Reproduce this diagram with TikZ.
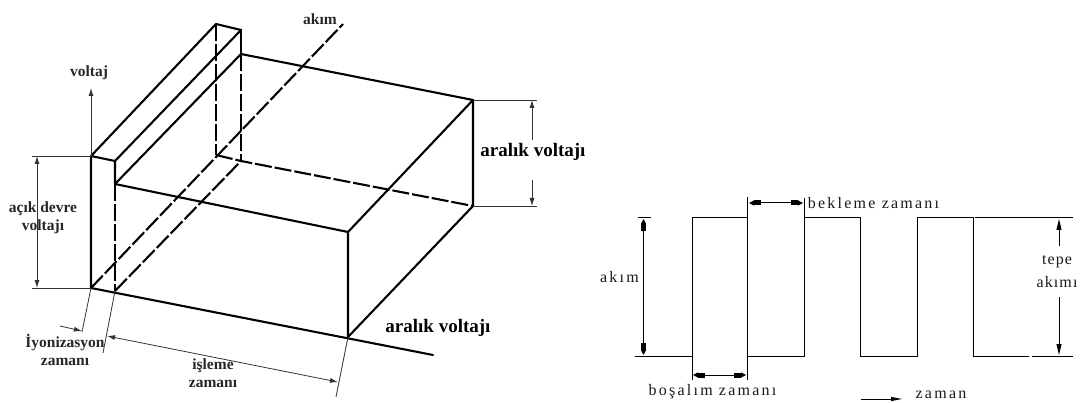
\documentclass[tikz,border=0pt]{standalone}
\usepackage{fontspec}
\setmainfont{Liberation Serif}
\usetikzlibrary{arrows.meta}
\newfontfamily\widefont[LetterSpace=14]{Liberation Serif}
\newfontfamily\midfont[LetterSpace=7]{Liberation Serif}
\tikzset{
  x=1pt,y=-1pt,
  heavy/.style={line width=2.1pt,line cap=round,line join=round},
  heavydash/.style={heavy,line cap=butt,dash pattern=on 17pt off 3pt},
  thinl/.style={line width=0.8pt,black!80},
  wave/.style={line width=1pt,black},
  tipL/.style={-{Latex[length=8pt,width=5pt]}},
  tipB/.style={{Latex[length=8pt,width=5pt]}-{Latex[length=8pt,width=5pt]}},
  fat/.style={-{Rectangle[length=7pt,width=5pt,sep=0pt]Triangle[length=5pt,width=5pt]}},
  lab/.style={font=\fontsize{15.5}{17}\selectfont\bfseries,inner sep=0pt,black!85},
  blab/.style={font=\fontsize{19}{21}\selectfont\bfseries,inner sep=0pt},
  rlab/.style={font=\fontsize{16}{18}\widefont,inner sep=0pt,black!90},
  mlab/.style={font=\fontsize{16}{18}\midfont,inner sep=0pt,black!90}
}
\begin{document}
\begin{tikzpicture}
\useasboundingbox (0,0) rectangle (1083,403);
% box corners
\coordinate (A) at (91,288);
\coordinate (At) at (91,156);
\coordinate (B) at (115,291);
\coordinate (Bt) at (115,161);
\coordinate (Bm) at (115,184);
\coordinate (C) at (216,24);
\coordinate (D) at (241,30);
\coordinate (Dm) at (241,54);
\coordinate (Cb) at (216,155);
\coordinate (Db) at (241,161);
\coordinate (E) at (348,232);
\coordinate (Eb) at (348,337);
\coordinate (F) at (473,100);
\coordinate (Fb) at (473,206);
\coordinate (G) at (433,355);
\coordinate (H) at (343,24);
% heavy solid
\draw[heavy] (A) -- (At) -- (C) -- (D) -- (Bt) -- (At);
\draw[heavy] (Bt) -- (Bm) -- (E) -- (Eb);
\draw[heavy] (Bm) -- (Dm) -- (F) -- (E);
\draw[heavy] (D) -- (Dm);
\draw[heavy] (F) -- (Fb) -- (Eb);
\draw[heavy] (A) -- (G);
% heavy dashed
\draw[heavydash] (A) -- (H);
\draw[heavydash] (B) -- (Db);
\draw[heavydash] (Bm) -- (B);
\draw[heavydash] (C) -- (Cb);
\draw[heavydash] (Dm) -- (Db);
\draw[heavydash] (Cb) -- (Db) -- (Fb);
% voltaj axis
\coordinate (vt) at (91,88);
\draw[thinl,tipL] (At) -- (vt);
\node[lab] (voltaj) at (89,73) {voltaj};
\node[lab] (akimtop) at (320,19) {akım};
% open circuit dim
\coordinate (dl1) at (32,156);
\coordinate (dl2) at (32,288);
\coordinate (da1) at (37,156);
\coordinate (da2) at (37,288);
\draw[thinl] (dl1) -- (At);
\draw[thinl] (dl2) -- (A);
\draw[thinl,tipB] (da1) -- (da2);
\node[lab,align=center] (acik) at (43,218) {açık devre\\[1pt]voltajı};
% extension lines
\coordinate (e1) at (82,332);
\coordinate (e2) at (103,353);
\coordinate (e3) at (336,397);
\draw[thinl] (A) -- (e1);
\draw[thinl] (B) -- (e2);
\draw[thinl] (Eb) -- (e3);
\coordinate (d0) at (60,326);
\coordinate (d1) at (82,331);
\coordinate (d2) at (107,336);
\coordinate (d3) at (338,382);
\draw[thinl,tipL] (d0) -- (d1);
\draw[thinl,tipB] (d2) -- (d3);
\node[lab,align=center] (iyon) at (65,350) {İyonizasyon\\[1pt]zamanı};
\node[lab,align=center] (isleme) at (213,373.5) {işleme\\[1pt]zamanı};
% gap voltage
\coordinate (r1) at (537,100);
\coordinate (r2) at (537,206);
\draw[thinl] (F) -- (r1);
\draw[thinl] (Fb) -- (r2);
\coordinate (ra1) at (532,100);
\coordinate (ra1b) at (532,140);
\coordinate (ra2) at (532,180);
\coordinate (ra2b) at (532,206);
\draw[thinl,tipL] (ra1b) -- (ra1);
\draw[thinl,tipL] (ra2) -- (ra2b);
\node[blab] (gap1) at (533,152) {aralık voltajı};
\node[blab] (gap2) at (438,328) {aralık voltajı};
% waveform
\coordinate (w0) at (635,356);
\coordinate (w1) at (692,356);
\coordinate (w1t) at (692,218);
\coordinate (w2t) at (747,218);
\coordinate (w3) at (748,356);
\coordinate (w4) at (804,356);
\coordinate (w4t) at (804,218);
\coordinate (w5t) at (860,218);
\coordinate (w5) at (860,356);
\coordinate (w6) at (917,356);
\coordinate (w6t) at (917,218);
\coordinate (w7t) at (973,218);
\coordinate (w7) at (973,356);
\coordinate (w8) at (1029,356);
\coordinate (w9) at (1032,356);
\coordinate (w10) at (1073,356);
\coordinate (w11) at (975,218);
\coordinate (w12) at (1073,218);
\coordinate (tA) at (747,197);
\coordinate (tB) at (747,380);
\coordinate (tC) at (692,380);
\coordinate (tD) at (804,198);
\draw[wave] (w0) -- (w1) -- (tC);
\draw[wave] (w1) -- (w1t) -- (w2t);
\draw[wave] (tA) -- (tB);
\draw[wave] (w3) -- (w4) -- (tD);
\draw[wave] (w4t) -- (w5t) -- (w5) -- (w6) -- (w6t) -- (w7t) -- (w7) -- (w8);
\draw[wave] (w9) -- (w10);
\draw[wave] (w11) -- (w12);
% dims on the right
\coordinate (x1) at (693,375);
\coordinate (x2) at (746,375);
\coordinate (x3) at (720,375);
\draw[wave,fat] (x3) -- (x1);
\draw[wave,fat] (x3) -- (x2);
\coordinate (y1) at (749,203);
\coordinate (y2) at (803,203);
\coordinate (y3) at (776,203);
\draw[wave,fat] (y3) -- (y1);
\draw[wave,fat] (y3) -- (y2);
\coordinate (z0) at (638,218);
\coordinate (z1) at (651,218);
\draw[wave] (z0) -- (z1);
\coordinate (z2) at (643.5,219);
\coordinate (z3) at (643.5,355);
\coordinate (z4) at (643.5,287);
\draw[wave,fat] (z4) -- (z2);
\draw[wave,fat] (z4) -- (z3);
\coordinate (q1) at (1059,219);
\coordinate (q2) at (1059,246);
\coordinate (q3) at (1059,297);
\coordinate (q4) at (1059,355);
\draw[wave,-{Triangle[length=11pt,width=5pt]}] (q2) -- (q1);
\draw[wave,-{Triangle[length=11pt,width=5pt]}] (q3) -- (q4);
\coordinate (t1) at (861,399);
\coordinate (t2) at (902,399);
\draw[wave,-{Triangle[length=11pt,width=4pt]}] (t1) -- (t2);
\node[rlab,anchor=east] (akim) at (639,277) {akım};
\node[rlab] (bos) at (712.5,392) {boşalım zamanı};
\node[rlab] (bek) at (873.5,203) {bekleme zamanı};
\node[mlab] (tepe) at (1057,262) {tepe};
\node[mlab] (akimi) at (1057,282) {akımı};
\node[rlab] (zaman) at (941,395) {zaman};
\end{tikzpicture}
\end{document}
